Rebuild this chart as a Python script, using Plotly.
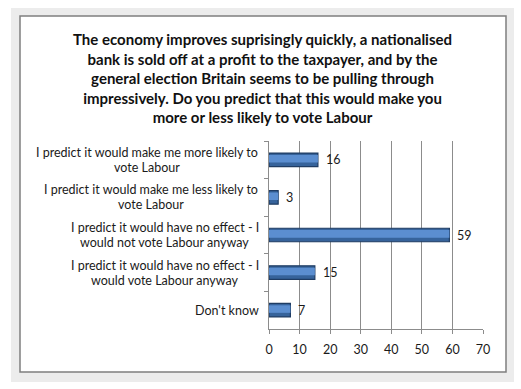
import plotly.graph_objects as go

categories = [
    "I predict it would make me more likely to<br>vote Labour",
    "I predict it would make me less likely to<br>vote Labour",
    "I predict it would have no effect - I<br>would not vote Labour anyway",
    "I predict it would have no effect - I<br>would vote Labour anyway",
    "Don't know",
]
values = [16, 3, 59, 15, 7]
x_ticks = [0, 10, 20, 30, 40, 50, 60, 70]
title_text = ("The economy improves suprisingly quickly, a nationalised<br>"
              "bank is sold off at a profit to the taxpayer, and by the<br>"
              "general election Britain seems to be pulling through<br>"
              "impressively. Do you predict that this would make you<br>"
              "more or less likely to vote Labour")

W, H = 521, 389
L, R, T, B = 269, 483, 141, 329

def px(x):
    return (x - L) / (R - L)

def py(y):
    return (B - y) / (B - T)

FONT = "Lato, 'Open Sans', sans-serif"
TXT = "#1a1a1a"
# horizontal centre (in pixels) of each category label block
LABEL_CENTRES = [147, 151, 164.5, 164.5, 227]
LINE_GAP = 15

fig = go.Figure()
fig.add_trace(go.Bar(
    y=categories, x=values, orientation="h",
    width=0.36,
    marker=dict(color="#36639b", line=dict(color="#1f3c63", width=1.2)),
    cliponaxis=False, hoverinfo="skip",
))
fig.add_trace(go.Bar(
    y=categories, x=values, orientation="h",
    width=0.2, offset=-0.13,
    marker=dict(color="#5b8ed0", line=dict(width=0)),
    cliponaxis=False, hoverinfo="skip",
))

annotations = [dict(
    text="<b>" + title_text + "</b>", xref="paper", yref="paper",
    x=px(262), y=py(78), xanchor="center", yanchor="middle",
    showarrow=False, align="center",
    font=dict(size=15, color="#111111", family=FONT),
)]
for c, v, cx in zip(categories, values, LABEL_CENTRES):
    lines = c.split("<br>")
    n = len(lines)
    for i, line in enumerate(lines):
        annotations.append(dict(
            text=line, xref="paper", yref="y", x=px(cx), y=c,
            yshift=-(i - (n - 1) / 2) * LINE_GAP,
            xanchor="center", yanchor="middle", showarrow=False,
            font=dict(size=12.5, color=TXT, family=FONT),
        ))
    annotations.append(dict(
        text=str(v), xref="x", yref="y", x=v, y=c, xshift=6,
        xanchor="left", yanchor="middle", showarrow=False,
        font=dict(size=12.5, color=TXT, family=FONT),
    ))

fig.update_layout(
    width=W, height=H,
    margin=dict(l=L, r=W - R, t=T, b=H - B),
    paper_bgcolor="white", plot_bgcolor="white",
    showlegend=False, barmode="overlay",
    font=dict(family=FONT, size=12, color=TXT),
    xaxis=dict(range=[0, 70], tickvals=x_ticks, showgrid=True, gridcolor="#8c8c8c",
               gridwidth=1, showline=True, linecolor="#8c8c8c", ticks="outside",
               ticklen=4, tickcolor="#8c8c8c", zeroline=False, fixedrange=True,
               ticklabelstandoff=5, tickfont=dict(size=12.5)),
    yaxis=dict(autorange="reversed", showline=True, linecolor="#8c8c8c",
               ticks="outside", ticklen=4, tickcolor="#8c8c8c", tickson="boundaries",
               showgrid=False, showticklabels=False),
    shapes=[
        dict(type="rect", xref="paper", yref="paper", layer="below",
             x0=px(11), x1=px(514), y0=py(8), y1=py(382),
             fillcolor="#ececec", line=dict(width=0)),
        dict(type="rect", xref="paper", yref="paper", layer="below",
             x0=px(20), x1=px(506), y0=py(16), y1=py(372),
             fillcolor="white", line=dict(color="#7f7f7f", width=1.5)),
    ],
    annotations=annotations,
)

fig.write_html("out.html")
